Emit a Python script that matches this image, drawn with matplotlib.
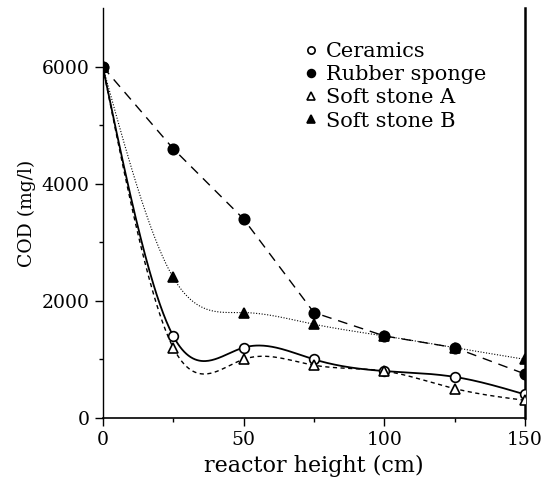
import numpy as np
import matplotlib
matplotlib.use("Agg")
import matplotlib.pyplot as plt

heights = [0, 25, 50, 75, 100, 125, 150]
ceramics = [6000, 1400, 1200, 1000, 800, 700, 400]
rubber_sponge = [6000, 4600, 3400, 1800, 1400, 1200, 750]
soft_stone_a = [6000, 1200, 1000, 900, 800, 500, 300]
soft_stone_b = [6000, 2400, 1800, 1600, 1400, 1200, 1000]
x_ticks = [0, 50, 100, 150]
y_ticks = [0, 2000, 4000, 6000]


def natural_spline(x, y, n=400):
    x = np.asarray(x, float)
    y = np.asarray(y, float)
    m = len(x)
    h = np.diff(x)
    A = np.zeros((m, m))
    b = np.zeros(m)
    A[0, 0] = 1
    A[-1, -1] = 1
    for i in range(1, m - 1):
        A[i, i - 1] = h[i - 1]
        A[i, i] = 2 * (h[i - 1] + h[i])
        A[i, i + 1] = h[i]
        b[i] = 3 * ((y[i + 1] - y[i]) / h[i] - (y[i] - y[i - 1]) / h[i - 1])
    c = np.linalg.solve(A, b)
    xs = np.linspace(x[0], x[-1], n)
    ys = np.empty_like(xs)
    for k, xv in enumerate(xs):
        i = min(np.searchsorted(x, xv, side="right") - 1, m - 2)
        dx = xv - x[i]
        bb = (y[i + 1] - y[i]) / h[i] - h[i] * (2 * c[i] + c[i + 1]) / 3
        d = (c[i + 1] - c[i]) / (3 * h[i])
        ys[k] = y[i] + bb * dx + c[i] * dx ** 2 + d * dx ** 3
    return xs, ys


plt.rcParams["font.family"] = ["DejaVu Serif"]
fig = plt.figure(figsize=(5.44, 4.87), dpi=100)
ax = fig.add_axes([0.189, 0.142, 0.776, 0.841])

series = [
    ("Ceramics", ceramics, "o", "white", "-", 1.3, True, 7),
    ("Rubber sponge", rubber_sponge, "o", "black", (0, (7, 5)), 1.0, False, 7.5),
    ("Soft stone A", soft_stone_a, "^", "white", (0, (3, 2.5)), 1.0, True, 7),
    ("Soft stone B", soft_stone_b, "^", "black", (0, (1, 1.5)), 0.8, True, 7.5),
]

handles = []
for name, vals, mk, fc, ls, lw, smooth, ms in series:
    if smooth:
        xs, ys = natural_spline(heights, vals)
    else:
        xs, ys = heights, vals
    ax.plot(xs, ys, color="black", linestyle=ls, linewidth=lw, zorder=2)
    h = ax.plot(heights, vals, linestyle="none", marker=mk, markersize=ms,
                markerfacecolor=fc, markeredgecolor="black",
                markeredgewidth=1.2, zorder=3, label=name)[0]
    handles.append(h)

ax.set_xlim(0, 150)
ax.set_ylim(0, 7000)
ax.spines["top"].set_visible(False)
ax.spines["left"].set_linewidth(1.0)
ax.spines["bottom"].set_linewidth(1.2)
ax.spines["right"].set_linewidth(1.8)
ax.set_xticks(x_ticks)
ax.set_yticks(y_ticks)
ax.set_xticks([25, 75, 125], minor=True)
ax.set_yticks([1000, 3000, 5000], minor=True)
ax.tick_params(axis="both", which="major", direction="out", length=6,
               width=1, labelsize=13.5)
ax.tick_params(axis="both", which="minor", direction="out", length=3, width=1)
ax.set_xlabel("reactor height (cm)", fontsize=16)
ax.set_ylabel("COD (mg/l)", fontsize=13.5)

leg = ax.legend(handles=handles, loc="upper left",
                bbox_to_anchor=(0.457, 0.943), frameon=False, fontsize=15,
                handlelength=0.5, handletextpad=0.45, labelspacing=0.2,
                borderpad=0, markerscale=0.75)

fig.savefig("out.png", dpi=100)
